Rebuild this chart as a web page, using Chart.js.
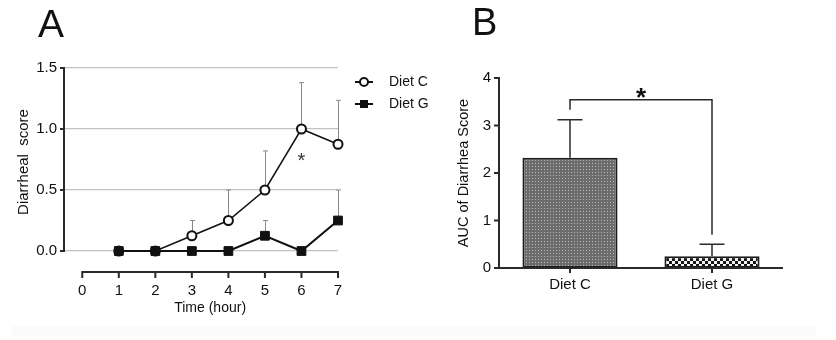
<!DOCTYPE html>
<html>
<head>
<meta charset="utf-8">
<script src="https://cdn.jsdelivr.net/npm/chart.js@4"></script>
<style>
  html, body { margin: 0; padding: 0; background: #fff; }
  body { width: 836px; height: 340px; position: relative; overflow: hidden; }
  #wrapA { position: absolute; left: 0; top: 0; width: 440px; height: 340px; }
  #wrapB { position: absolute; left: 420px; top: 0; width: 416px; height: 340px; }
  #band { position: absolute; left: 12px; top: 326px; width: 804px; height: 11px; background: #fbfbfb; }
</style>
</head>
<body>
<div id="band"></div>
<div id="wrapA"><canvas id="chartA" width="440" height="340"></canvas></div>
<div id="wrapB"><canvas id="chartB" width="416" height="340"></canvas></div>
<script>
// Panel A: diarrheal score over time
const hours = [1, 2, 3, 4, 5, 6, 7];
const dietC = [0, 0, 0.125, 0.25, 0.5, 1.0, 0.875];
const dietCErr = [0, 0, 0.125, 0.25, 0.32, 0.38, 0.36];
const dietG = [0, 0, 0, 0, 0.125, 0, 0.25];
const dietGErr = [0, 0, 0, 0, 0.125, 0, 0.25];
const xTicksA = [0, 1, 2, 3, 4, 5, 6, 7];
const yTicksA = [0, 0.5, 1.0, 1.5];
const starA = { x: 6, y: 0.78 };

// Panel B: AUC
const aucGroups = ['Diet C', 'Diet G'];
const aucMean = [2.32, 0.25];
const aucErr = [0.8, 0.25];
const yTicksB = [0, 1, 2, 3, 4];
const bracketB = { top: 3.54, left: 3.33, right: 0.7 };

const FONT = '"Liberation Sans", Arial, Helvetica, sans-serif';
const INK = '#111';
const AXIS = '#2a2a2a';

function pattern(size, draw) {
  const c = document.createElement('canvas');
  c.width = size; c.height = size;
  draw(c.getContext('2d'));
  return c.getContext('2d').createPattern(c, 'repeat');
}

// fine gray dot texture for Diet C bar
const patC = pattern(3, g => {
  g.fillStyle = '#6c6c6c';
  g.fillRect(0, 0, 3, 3);
  g.fillStyle = '#b8b8b8';
  g.fillRect(1, 1, 1, 1);
});
// black / white checks for Diet G bar
const patG = pattern(6, g => {
  g.fillStyle = '#f4f4f4';
  g.fillRect(0, 0, 6, 6);
  g.fillStyle = '#151515';
  g.fillRect(0, 0, 3, 3);
  g.fillRect(3, 3, 3, 3);
});

function star(ctx, text, x, cy, size, weight) {
  ctx.font = weight + ' ' + size + 'px ' + FONT;
  ctx.textAlign = 'center';
  ctx.textBaseline = 'alphabetic';
  ctx.fillText(text, x, cy + size * 0.58);
}

const panelA = {
  id: 'panelA',
  beforeDatasetsDraw(chart) {
    const ctx = chart.ctx, xs = chart.scales.x, ys = chart.scales.y;
    ctx.save();
    ctx.strokeStyle = '#8a8a8a';
    ctx.lineWidth = 1;
    [[dietC, dietCErr], [dietG, dietGErr]].forEach(([vals, errs]) => {
      vals.forEach((v, i) => {
        if (!errs[i]) return;
        const x = Math.round(xs.getPixelForValue(hours[i])) + 0.5;
        const y0 = ys.getPixelForValue(v);
        const y1 = ys.getPixelForValue(v + errs[i]);
        ctx.beginPath();
        ctx.moveTo(x, y0); ctx.lineTo(x, y1);
        ctx.moveTo(x - 2.5, y1); ctx.lineTo(x + 2.5, y1);
        ctx.stroke();
      });
    });
    ctx.restore();
  },
  afterDraw(chart) {
    const ctx = chart.ctx, xs = chart.scales.x, ys = chart.scales.y;
    const area = chart.chartArea;
    ctx.save();
    ctx.strokeStyle = AXIS;
    ctx.lineWidth = 2;
    // y axis
    ctx.beginPath();
    ctx.moveTo(area.left, ys.getPixelForValue(1.5) - 1);
    ctx.lineTo(area.left, ys.getPixelForValue(0) + 1);
    yTicksA.forEach(v => {
      const y = ys.getPixelForValue(v);
      ctx.moveTo(area.left - 4, y); ctx.lineTo(area.left, y);
    });
    // x axis, offset below the plot
    const yb = area.bottom;
    ctx.moveTo(xs.getPixelForValue(0) - 1, yb);
    ctx.lineTo(xs.getPixelForValue(7) + 1, yb);
    xTicksA.forEach(v => {
      const x = xs.getPixelForValue(v);
      ctx.moveTo(x, yb - 1); ctx.lineTo(x, yb + 6);
    });
    ctx.stroke();

    ctx.fillStyle = INK;
    // panel letter
    ctx.font = '39px ' + FONT;
    ctx.textAlign = 'left';
    ctx.textBaseline = 'alphabetic';
    ctx.fillText('A', 38, 37);
    // axis titles
    ctx.font = '14px ' + FONT;
    ctx.textAlign = 'center';
    ctx.textBaseline = 'middle';
    ctx.fillText('Time (hour)', (xs.getPixelForValue(0) + xs.getPixelForValue(7)) / 2, 308);
    ctx.save();
    ctx.translate(24, 162);
    ctx.rotate(-Math.PI / 2);
    ctx.font = '15px ' + FONT;
    ctx.fillText('Diarrheal  score', 0, 0);
    ctx.restore();
    // significance mark
    ctx.fillStyle = '#333';
    star(ctx, '*', xs.getPixelForValue(starA.x), ys.getPixelForValue(starA.y), 20, 'normal');

    // legend
    ctx.fillStyle = INK;
    ctx.strokeStyle = INK;
    ctx.lineWidth = 2;
    const lx = 355, rows = [82, 104];
    rows.forEach((y, k) => {
      ctx.beginPath();
      ctx.moveTo(lx, y); ctx.lineTo(lx + 18, y);
      ctx.stroke();
      if (k === 0) {
        ctx.beginPath();
        ctx.arc(lx + 9, y, 4, 0, Math.PI * 2);
        ctx.fillStyle = '#fff';
        ctx.fill();
        ctx.stroke();
      } else {
        ctx.fillStyle = INK;
        ctx.fillRect(lx + 5, y - 4, 8, 8);
      }
      ctx.fillStyle = INK;
      ctx.font = '14px ' + FONT;
      ctx.textAlign = 'left';
      ctx.textBaseline = 'middle';
      ctx.fillText(k === 0 ? 'Diet C' : 'Diet G', 389, y);
    });
    ctx.restore();
  }
};

const panelB = {
  id: 'panelB',
  afterDatasetsDraw(chart) {
    const ctx = chart.ctx, xs = chart.scales.x, ys = chart.scales.y;
    const area = chart.chartArea;
    ctx.save();
    ctx.strokeStyle = AXIS;
    ctx.lineWidth = 1.5;
    // error bars
    aucMean.forEach((v, i) => {
      const x = Math.round(xs.getPixelForValue(i));
      const y0 = ys.getPixelForValue(v);
      const y1 = ys.getPixelForValue(v + aucErr[i]);
      ctx.beginPath();
      ctx.moveTo(x, y0); ctx.lineTo(x, y1);
      ctx.moveTo(x - 12.5, y1); ctx.lineTo(x + 12.5, y1);
      ctx.stroke();
    });
    // significance bracket
    const xc = Math.round(xs.getPixelForValue(0)), xg = Math.round(xs.getPixelForValue(1));
    ctx.beginPath();
    ctx.moveTo(xc, ys.getPixelForValue(bracketB.left));
    ctx.lineTo(xc, ys.getPixelForValue(bracketB.top));
    ctx.lineTo(xg, ys.getPixelForValue(bracketB.top));
    ctx.lineTo(xg, ys.getPixelForValue(bracketB.right));
    ctx.stroke();

    // axes
    ctx.lineWidth = 2;
    ctx.beginPath();
    ctx.moveTo(area.left, ys.getPixelForValue(4) - 1);
    ctx.lineTo(area.left, area.bottom);
    yTicksB.forEach(v => {
      const y = ys.getPixelForValue(v);
      ctx.moveTo(area.left - 5, y); ctx.lineTo(area.left, y);
    });
    ctx.moveTo(area.left - 1, area.bottom);
    ctx.lineTo(area.right, area.bottom);
    aucGroups.forEach((g, i) => {
      const x = xs.getPixelForValue(i);
      ctx.moveTo(x, area.bottom); ctx.lineTo(x, area.bottom + 5);
    });
    ctx.stroke();

    ctx.fillStyle = INK;
    ctx.font = '38px ' + FONT;
    ctx.textAlign = 'left';
    ctx.textBaseline = 'alphabetic';
    ctx.fillText('B', 52, 35);
    ctx.save();
    ctx.translate(44, (area.top + area.bottom) / 2);
    ctx.rotate(-Math.PI / 2);
    ctx.font = '14.5px ' + FONT;
    ctx.textAlign = 'center';
    ctx.textBaseline = 'middle';
    ctx.fillText('AUC of Diarrhea Score', 0, 0);
    ctx.restore();
    star(ctx, '*', (xc + xg) / 2, ys.getPixelForValue(bracketB.top) - 9, 26, 'bold');
    ctx.restore();
  }
};

new Chart(document.getElementById('chartA'), {
  type: 'line',
  data: {
    datasets: [
      {
        label: 'Diet C',
        data: hours.map((h, i) => ({ x: h, y: dietC[i] })),
        borderColor: INK,
        borderWidth: 1.5,
        pointStyle: 'circle',
        pointRadius: 4.5,
        pointBorderWidth: 2,
        pointBackgroundColor: '#fff',
        pointBorderColor: INK,
        clip: false,
        order: 1,
      },
      {
        label: 'Diet G',
        data: hours.map((h, i) => ({ x: h, y: dietG[i] })),
        borderColor: INK,
        borderWidth: 2,
        pointStyle: 'rect',
        pointRadius: 6.2,
        pointBorderWidth: 1,
        pointBackgroundColor: INK,
        pointBorderColor: INK,
        clip: false,
        order: 0,
      },
    ],
  },
  options: {
    responsive: false,
    animation: false,
    layout: { padding: { top: 68, right: 102, left: 0, bottom: 0 } },
    scales: {
      x: {
        type: 'linear',
        min: -0.5,
        max: 7,
        afterBuildTicks: s => { s.ticks = xTicksA.map(v => ({ value: v })); },
        afterFit: s => { s.height = 68; },
        grid: { display: false, drawTicks: false },
        border: { display: false },
        ticks: { color: INK, padding: 10, maxRotation: 0, font: { size: 15, family: FONT } },
      },
      y: {
        min: -0.172,
        max: 1.5,
        afterBuildTicks: s => { s.ticks = yTicksA.map(v => ({ value: v })); },
        afterFit: s => { s.width = 64; },
        grid: { color: '#c2c2c2', lineWidth: 1.2, drawTicks: false },
        border: { display: false },
        ticks: { color: INK, padding: 7, callback: v => v.toFixed(1), font: { size: 15, family: FONT } },
      },
    },
    plugins: { legend: { display: false }, tooltip: { enabled: false } },
  },
  plugins: [panelA],
});

new Chart(document.getElementById('chartB'), {
  type: 'bar',
  data: {
    labels: aucGroups,
    datasets: [{
      label: 'AUC',
      data: aucMean,
      backgroundColor: [patC, patG],
      borderColor: '#1e1e1e',
      borderWidth: 2,
      borderSkipped: false,
      barPercentage: 0.67,
      categoryPercentage: 1,
    }],
  },
  options: {
    responsive: false,
    animation: false,
    layout: { padding: { top: 78, right: 53, left: 0, bottom: 0 } },
    scales: {
      x: {
        afterFit: s => { s.height = 72; },
        grid: { display: false, drawTicks: false },
        border: { display: false },
        ticks: { color: INK, padding: 8, font: { size: 15, family: FONT } },
      },
      y: {
        min: 0,
        max: 4,
        afterBuildTicks: s => { s.ticks = yTicksB.map(v => ({ value: v })); },
        afterFit: s => { s.width = 79; },
        grid: { display: false, drawTicks: false },
        border: { display: false },
        ticks: { color: INK, padding: 8, font: { size: 15, family: FONT } },
      },
    },
    plugins: { legend: { display: false }, tooltip: { enabled: false } },
  },
  plugins: [panelB],
});
</script>
</body>
</html>
